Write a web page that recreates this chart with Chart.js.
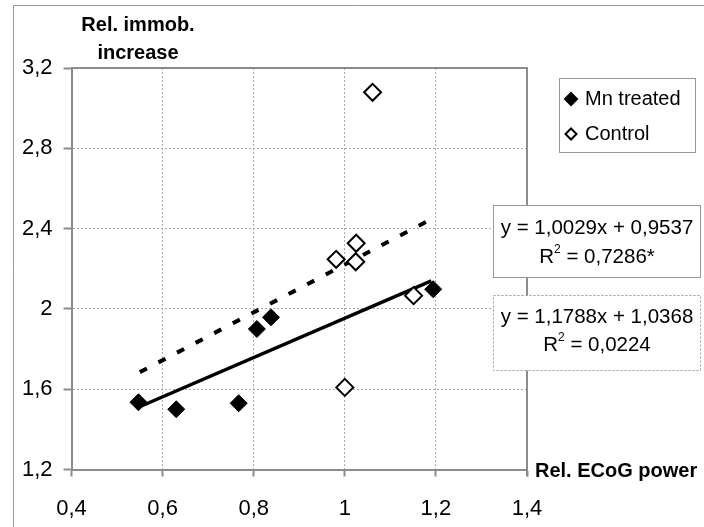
<!DOCTYPE html>
<html>
<head>
<meta charset="utf-8">
<script src="https://cdn.jsdelivr.net/npm/chart.js@4.4.1/dist/chart.umd.min.js"></script>
<style>
  html, body { margin: 0; padding: 0; background: #fff; }
  canvas { display: block; }
</style>
</head>
<body>
<canvas id="chart" width="704" height="527"></canvas>
<script>
// Données
var mnX = [0.547, 0.630, 0.767, 0.807, 0.838, 1.194];
var mnY = [1.535, 1.500, 1.530, 1.900, 1.958, 2.098];
var ctrlX = [0.981, 1.025, 1.024, 1.151, 1.000, 1.061];
var ctrlY = [2.247, 2.327, 2.235, 2.066, 1.609, 3.079];
// droites de tendance (extrémités)
var mnFitX = [0.547, 1.190];
var mnFitY = [1.510, 2.140];
var ctrlFitX = [0.550, 1.180];
var ctrlFitY = [1.685, 2.435];
var xTicks = [0.4, 0.6, 0.8, 1, 1.2, 1.4];
var yTicks = [1.2, 1.6, 2, 2.4, 2.8, 3.2];
var seriesNames = ['Mn treated', 'Control'];
var eqMn = ['y = 1,0029x + 0,9537', '0,7286*'];
var eqCtrl = ['y = 1,1788x + 1,0368', '0,0224'];

var FONT = '"Liberation Sans", Arial, sans-serif';

function pts(xs, ys) {
    return xs.map(function(x, i) { return { x: x, y: ys[i] }; });
}
function fmt(v) {
    return String(Math.round(v * 10) / 10).replace('.', ',');
}

// Cadre, titres, légende et équations
var decorPlugin = {
    id: 'decor',
    afterDraw: function(chart) {
        var ctx = chart.ctx;
        var a = chart.chartArea;
        ctx.save();

        // cadre extérieur
        ctx.strokeStyle = '#999';
        ctx.lineWidth = 1;
        ctx.beginPath();
        ctx.moveTo(13.5, 527);
        ctx.lineTo(13.5, 5.5);
        ctx.lineTo(704, 5.5);
        ctx.stroke();

        // bord haut et droit de la zone de tracé
        ctx.strokeStyle = '#8c8c8c';
        ctx.lineWidth = 2;
        ctx.beginPath();
        ctx.moveTo(a.left, a.top);
        ctx.lineTo(a.right, a.top);
        ctx.lineTo(a.right, a.bottom + 7);
        ctx.stroke();

        // titres d'axes
        ctx.fillStyle = '#000';
        ctx.font = 'bold 20px ' + FONT;
        ctx.textAlign = 'center';
        ctx.textBaseline = 'middle';
        ctx.fillText('Rel. immob.', 138, 25);
        ctx.fillText('increase', 138, 53);
        ctx.textAlign = 'left';
        ctx.fillText('Rel. ECoG power', 535, 471);

        // légende
        ctx.fillStyle = '#fff';
        ctx.fillRect(559.5, 78.5, 136, 74);
        ctx.strokeStyle = '#999';
        ctx.lineWidth = 1;
        ctx.strokeRect(559.5, 78.5, 136, 74);
        drawDiamond(ctx, 571, 99, 6, true);
        drawDiamond(ctx, 571, 134, 5.5, false);
        ctx.fillStyle = '#000';
        ctx.font = '20px ' + FONT;
        ctx.textAlign = 'left';
        ctx.fillText(seriesNames[0], 585, 99);
        ctx.fillText(seriesNames[1], 585, 134);

        // équations
        drawEqBox(ctx, 493.5, 205.5, 207, 72, [], eqMn, 228, 257);
        drawEqBox(ctx, 493.5, 295.5, 207, 75, [2, 2], eqCtrl, 317, 345);

        ctx.restore();
    }
};

function drawDiamond(ctx, x, y, r, filled) {
    ctx.beginPath();
    ctx.moveTo(x, y - r);
    ctx.lineTo(x + r, y);
    ctx.lineTo(x, y + r);
    ctx.lineTo(x - r, y);
    ctx.closePath();
    ctx.lineWidth = 2;
    ctx.strokeStyle = '#000';
    ctx.fillStyle = filled ? '#000' : '#fff';
    ctx.fill();
    ctx.stroke();
}

function drawEqBox(ctx, x, y, w, h, dash, lines, y1, y2) {
    ctx.fillStyle = '#fff';
    ctx.fillRect(x, y, w, h);
    ctx.setLineDash(dash);
    ctx.strokeStyle = '#999';
    ctx.lineWidth = 1;
    ctx.strokeRect(x, y, w, h);
    ctx.setLineDash([]);
    var cx = x + w / 2;
    ctx.fillStyle = '#000';
    ctx.font = '20.5px ' + FONT;
    ctx.textAlign = 'center';
    ctx.textBaseline = 'middle';
    ctx.fillText(lines[0], cx, y1);
    // R² = ...
    var rest = ' = ' + lines[1];
    var wR = ctx.measureText('R').width;
    var wRest = ctx.measureText(rest).width;
    ctx.font = '12px ' + FONT;
    var wSup = ctx.measureText('2').width;
    var start = cx - (wR + wSup + wRest) / 2;
    ctx.textAlign = 'left';
    ctx.font = '20.5px ' + FONT;
    ctx.fillText('R', start, y2);
    ctx.font = '12px ' + FONT;
    ctx.fillText('2', start + wR, y2 - 7);
    ctx.font = '20.5px ' + FONT;
    ctx.fillText(rest, start + wR + wSup, y2);
}

var ctx = document.getElementById('chart').getContext('2d');
var chart = new Chart(ctx, {
    type: 'scatter',
    data: {
        datasets: [
            {
                label: seriesNames[0],
                data: pts(mnX, mnY),
                pointStyle: 'rectRot',
                pointRadius: 8.5,
                backgroundColor: '#000',
                borderColor: '#000',
                borderWidth: 1,
                order: 1
            },
            {
                label: seriesNames[1],
                data: pts(ctrlX, ctrlY),
                pointStyle: 'rectRot',
                pointRadius: 8.5,
                backgroundColor: '#fff',
                borderColor: '#000',
                borderWidth: 2,
                order: 2
            },
            {
                label: 'Mn fit',
                type: 'line',
                data: pts(mnFitX, mnFitY),
                borderColor: '#000',
                borderWidth: 3.5,
                pointRadius: 0,
                fill: false,
                order: 3
            },
            {
                label: 'Control fit',
                type: 'line',
                data: pts(ctrlFitX, ctrlFitY),
                borderColor: '#000',
                borderWidth: 4,
                borderDash: [8, 13],
                pointRadius: 0,
                fill: false,
                order: 4
            }
        ]
    },
    options: {
        responsive: false,
        animation: false,
        layout: { padding: { left: 0, top: 68, right: 177, bottom: 0 } },
        plugins: {
            legend: { display: false },
            tooltip: { enabled: false }
        },
        scales: {
            x: {
                type: 'linear',
                min: 0.4,
                max: 1.4,
                afterBuildTicks: function(scale) {
                    scale.ticks = xTicks.map(function(v) { return { value: v }; });
                },
                afterFit: function(scale) { scale.height = 57.5; },
                ticks: {
                    callback: function(v) { return fmt(v); },
                    color: '#000',
                    font: { family: FONT, size: 22 },
                    padding: 19,
                    maxRotation: 0
                },
                grid: {
                    color: '#aaa',
                    lineWidth: 1,
                    tickLength: 7,
                    tickColor: '#8c8c8c',
                    tickWidth: 2
                },
                border: { display: true, color: '#8c8c8c', width: 2, dash: [2, 2] }
            },
            y: {
                type: 'linear',
                min: 1.2,
                max: 3.2,
                afterBuildTicks: function(scale) {
                    scale.ticks = yTicks.map(function(v) { return { value: v }; });
                },
                afterFit: function(scale) { scale.width = 71.5; },
                ticks: {
                    callback: function(v) { return fmt(v); },
                    color: '#000',
                    font: { family: FONT, size: 22 },
                    padding: 11
                },
                grid: {
                    color: '#aaa',
                    lineWidth: 1,
                    tickLength: 8,
                    tickColor: '#8c8c8c',
                    tickWidth: 2
                },
                border: { display: true, color: '#8c8c8c', width: 2, dash: [2, 2] }
            }
        }
    },
    plugins: [decorPlugin]
});
</script>
</body>
</html>
